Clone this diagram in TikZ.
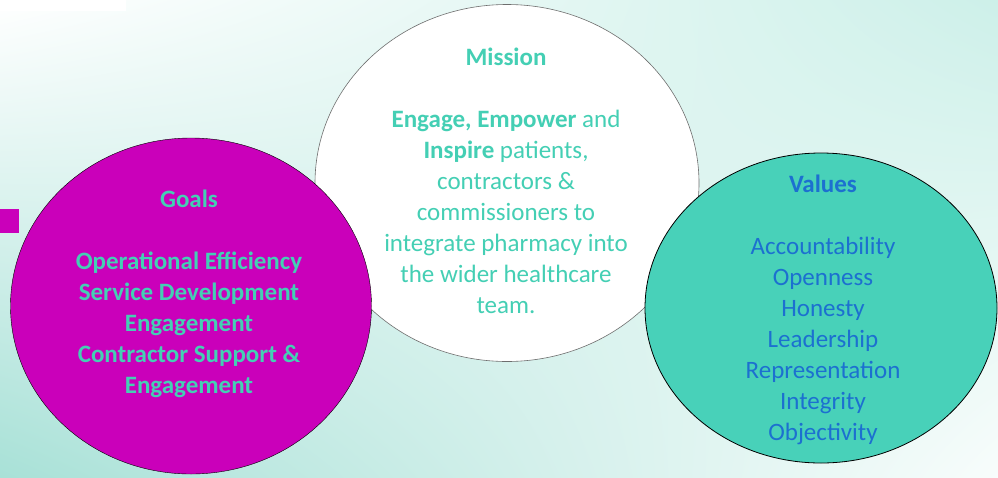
\documentclass[tikz,border=0pt]{standalone}
\usepackage{fontspec}
\setmainfont{Carlito}
\usetikzlibrary{shapes.geometric,shadings}

\definecolor{goalpink}{RGB}{202,0,186}
\definecolor{valteal}{RGB}{72,209,185}
\definecolor{txtteal}{RGB}{68,207,180}
\definecolor{txtblue}{RGB}{28,112,208}
\definecolor{misline}{RGB}{110,110,110}
\definecolor{bgteal}{RGB}{168,225,215}
\definecolor{bglight}{RGB}{205,240,233}
\newcommand{\lsize}{\fontsize{25}{31}\selectfont}

\begin{document}
\begin{tikzpicture}[x=1pt, y=-1pt,
    circ/.style={draw, ellipse, inner sep=0pt},
    words/.style={align=center, anchor=base, inner sep=0pt, font=\lsize}]
    % backdrop
    \shade[upper left=white, upper right=bglight, lower left=bgteal, lower right=white!92!bgteal] (0,0) rectangle (998,477);
    \fill[white] (0,0) rectangle (126,11);
    \fill[goalpink] (0,209) rectangle (19,233);
    \useasboundingbox (0,0) rectangle (998,477);

    % the three circles
    \node[circ, fill=white, draw=misline, line width=0.6pt, minimum width=384pt, minimum height=357pt] (mission) at (507,183) {};
    \node[circ, fill=goalpink, minimum width=361pt, minimum height=336pt] (goals) at (191,306) {};
    \node[circ, fill=valteal, line width=0.8pt, minimum width=352pt, minimum height=310pt] (values) at (821,308) {};

    % texts (anchored on the baseline of the last line)
    \node[words, text=txtteal, font=\lsize\bfseries] (goals-text) at (189,393)
        {Goals\\[31pt] Operational Efficiency\\ Service Development\\ Engagement\\ Contractor Support \&\\ Engagement};
    \node[words, text=txtteal] (mission-text) at (506,313)
        {\textbf{Mission}\\[31pt] \textbf{Engage, Empower} and\\ \textbf{Inspire} patients,\\ contractors \&\\ commissioners to\\ integrate pharmacy into\\ the wider healthcare\\ team.};
    \node[words, text=txtblue] (values-text) at (823,440)
        {\textbf{Values}\\[31pt] Accountability\\ Openness\\ Honesty\\ Leadership\\ Representation\\ Integrity\\ Objectivity};
\end{tikzpicture}
\end{document}
